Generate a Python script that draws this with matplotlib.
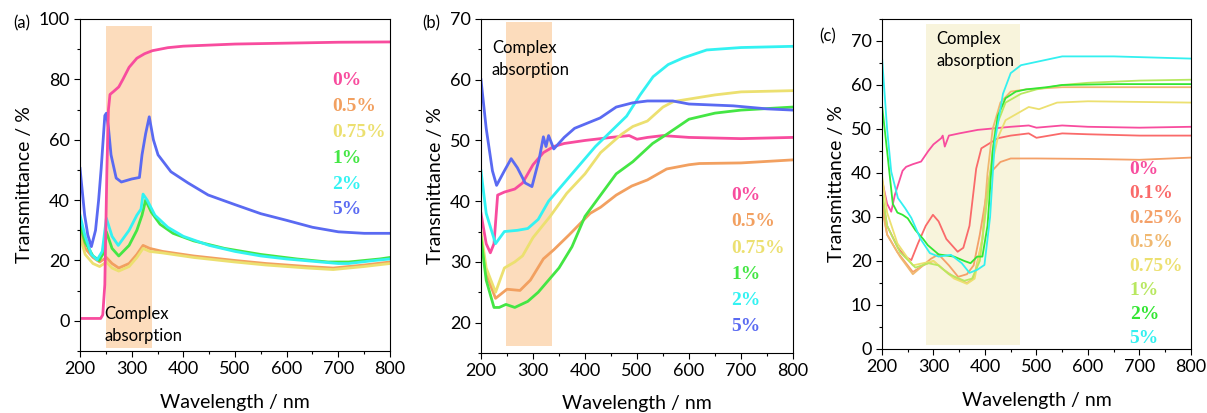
import matplotlib
matplotlib.use("Agg")
import matplotlib.pyplot as plt
from matplotlib.ticker import MultipleLocator

plt.rcParams['font.family'] = ['Lato', 'DejaVu Sans']

# ---- panel (a) ----
a_labels = ["0%", "0.5%", "0.75%", "1%", "2%", "5%"]
a_colors = ["#f84c9e", "#f2a060", "#ece070", "#44e644", "#33f2f2", "#5a6af2"]

a_x0 = [200, 240, 244, 248, 252, 255, 258, 265, 275, 283, 295, 310, 325, 340, 370, 400, 500, 600, 700, 800]
a_y0 = [0.8, 0.8, 2, 12, 50, 70, 75, 76, 77.5, 80, 84, 87, 88.5, 89.5, 90.5, 91, 91.7, 92, 92.3, 92.4]

a_xs = [200, 210, 225, 238, 251, 262, 275, 295, 310, 322, 335, 360, 420, 500, 560, 640, 690, 750, 800]
a_y05 = [30, 24, 21, 19.5, 21, 19, 17.5, 19, 22, 25, 24, 23, 21.5, 20, 19, 18, 17.5, 18.5, 19.5]
a_y075 = [28, 22, 19, 18, 19.5, 17.5, 16.5, 18, 21, 24, 23, 22.5, 21, 19.5, 18.5, 17.5, 17, 18, 19]

a_x1 = [200, 210, 225, 237, 244, 251, 262, 275, 295, 310, 320, 327, 338, 355, 380, 420, 480, 550, 620, 680, 720, 780, 800]
a_y1 = [32, 26, 21.5, 20, 22, 29.5, 24, 21.5, 25, 30, 35, 40, 36, 32, 29, 26.5, 24, 22, 20.5, 19.5, 19.5, 20.5, 21]

a_x2 = [200, 210, 222, 233, 243, 251, 262, 274, 295, 310, 318, 322, 330, 345, 370, 400, 450, 500, 550, 600, 700, 720, 770, 800]
a_y2 = [35, 28, 22, 20.2, 23, 34, 28, 25, 30, 35, 37, 42, 40, 35, 31, 28, 25, 23, 21.5, 20.5, 19, 19, 20, 20.5]

a_x5 = [200, 209, 215, 222, 230, 236, 241, 248, 251, 255, 260, 270, 280, 300, 315, 320, 327, 334, 342, 351, 376, 409, 448, 500, 550, 600, 650, 700, 750, 800]
a_y5 = [50.5, 35, 28.5, 24.6, 30, 40, 50.6, 68, 68.8, 64, 55, 47.3, 46, 47, 47.5, 55, 62, 67.6, 60, 55, 49.4, 45.7, 41.7, 38.5, 35.5, 33.3, 31, 29.5, 29, 29]

# ---- panel (b) ----
b_labels = ["0%", "0.5%", "0.75%", "1%", "2%", "5%"]
b_colors = ["#f84c9e", "#f2a060", "#ece070", "#44e644", "#33f2f2", "#5a6af2"]

b_x0 = [200, 210, 218, 225, 232, 245, 265, 280, 300, 320, 340, 360, 400, 450, 485, 500, 520, 550, 600, 700, 800]
b_y0 = [38, 33, 31.5, 33, 41, 41.5, 42, 43, 46, 48, 49, 49.5, 50, 50.5, 50.8, 50.2, 50.5, 50.8, 50.5, 50.3, 50.5]

b_x05 = [200, 210, 228, 250, 275, 295, 320, 340, 370, 410, 430, 460, 490, 520, 557, 600, 620, 700, 800]
b_y05 = [34, 28, 24, 25.5, 25.3, 27, 30.5, 32, 34.5, 38, 39, 41, 42.5, 43.5, 45.3, 46, 46.2, 46.3, 46.8]

b_x075 = [200, 210, 228, 245, 265, 280, 300, 333, 365, 400, 430, 470, 492, 520, 550, 570, 650, 700, 800]
b_y075 = [35, 29, 25, 29, 30, 31, 34, 37.5, 41.3, 44.5, 48, 51, 52.3, 53.2, 55.5, 56.4, 57.5, 58, 58.2]

b_x1 = [200, 210, 225, 235, 248, 265, 290, 310, 330, 350, 375, 400, 430, 460, 492, 530, 557, 600, 650, 700, 800]
b_y1 = [34, 27, 22.5, 22.5, 23, 22.5, 23.5, 25, 27, 29, 32.5, 37.5, 41, 44.5, 46.5, 49.5, 51, 53.5, 54.5, 55, 55.5]

b_x2 = [200, 210, 228, 245, 270, 290, 310, 330, 360, 390, 420, 450, 480, 506, 531, 560, 589, 634, 700, 800]
b_y2 = [45, 38, 33, 35, 35.2, 35.5, 37, 40, 43, 46, 49, 51.5, 54, 57.5, 60.5, 62.5, 63.6, 64.9, 65.3, 65.5]

b_x5 = [200, 210, 222, 230, 245, 258, 270, 285, 298, 312, 320, 325, 330, 340, 360, 380, 429, 460, 492, 520, 569, 600, 685, 750, 800]
b_y5 = [60, 52, 45, 42.6, 45, 47, 45.5, 43, 42.4, 47, 50.6, 49, 50.8, 48.6, 50.5, 52, 53.7, 55.5, 56.2, 56.5, 56.5, 56, 55.7, 55.2, 55]

# ---- panel (c) ----
c_labels = ["0%", "0.1%", "0.25%", "0.5%", "0.75%", "1%", "2%", "5%"]
c_colors = ["#f84c9e", "#fa6a6a", "#f4a068", "#f0b870", "#ece070", "#b8e860", "#33e633", "#33f0f0"]

c_x0 = [200, 210, 218, 225, 240, 247, 260, 276, 290, 300, 315, 318, 322, 330, 350, 386, 450, 485, 500, 550, 600, 700, 800]
c_y0 = [38.5, 33, 31.2, 35, 40.5, 41.4, 42, 42.6, 45, 46.5, 47.9, 48.5, 46, 48.5, 49, 49.8, 50.5, 50.8, 50.3, 50.8, 50.5, 50.3, 50.5]

c_x01 = [200, 210, 231, 245, 257, 270, 285, 299, 310, 325, 347, 358, 370, 383, 393, 425, 450, 485, 500, 550, 600, 700, 800]
c_y01 = [35, 28, 23, 21, 20.2, 24, 28, 30.5, 29, 25, 22.1, 23, 28, 41, 45.6, 47.9, 48.5, 49, 48, 49, 48.8, 48.5, 48.5]

c_x025 = [200, 210, 230, 260, 280, 295, 310, 330, 348, 365, 378, 390, 400, 410, 430, 450, 500, 600, 700, 800]
c_y025 = [33, 26, 22, 17.5, 19, 20.5, 21.5, 19, 16.4, 17, 19, 26, 33, 40, 42.5, 43.3, 43.3, 43.2, 43, 43.5]

c_x05 = [200, 210, 235, 260, 280, 300, 320, 345, 365, 378, 395, 405, 415, 430, 450, 480, 550, 800]
c_y05 = [32, 26, 21, 17, 19, 20, 18, 16, 15, 16, 25, 40, 50, 56, 58.5, 59, 59.5, 59.5]

c_x075 = [200, 210, 230, 260, 280, 300, 320, 340, 365, 380, 395, 410, 425, 440, 470, 485, 505, 540, 600, 800]
c_y075 = [39.5, 31, 24, 19, 19.5, 20, 18, 16, 14.8, 16, 25, 40, 48, 52, 54, 55, 54.5, 56, 56.3, 56]

c_x1 = [200, 210, 235, 265, 290, 310, 330, 360, 375, 390, 405, 420, 440, 470, 500, 550, 600, 700, 800]
c_y1 = [36, 28, 22, 18.5, 19.5, 19, 17, 15.5, 16, 20, 35, 50, 56, 58, 59, 60, 60.5, 61, 61.2]

c_x2 = [200, 210, 221, 230, 240, 250, 265, 280, 289, 310, 340, 360, 372, 385, 395, 405, 415, 425, 440, 460, 480, 520, 550, 650, 800]
c_y2 = [55.5, 45, 33, 31, 30.5, 29.7, 27, 25, 23.6, 21.5, 21, 20, 19.5, 21, 21, 28, 45, 53, 57, 58.5, 59, 59.5, 60, 60.2, 60.2]

c_x5 = [200, 210, 218, 231, 245, 257, 275, 293, 310, 334, 355, 370, 385, 399, 410, 419, 435, 450, 470, 550, 650, 800]
c_y5 = [66.5, 50, 40.3, 34.3, 32, 29.8, 25, 21.8, 21, 21.4, 19.5, 17.3, 18, 19.1, 30, 47, 58, 62.7, 64.5, 66.5, 66.5, 66]


fig = plt.figure(figsize=(12.07, 4.13), dpi=100)
ax_a = fig.add_axes([0.0663, 0.150, 0.2568, 0.804])
ax_b = fig.add_axes([0.3985, 0.1453, 0.2585, 0.8087])
ax_c = fig.add_axes([0.7307, 0.155, 0.256, 0.799])

def style(ax, ylim, ymajor, yminor):
    ax.set_xlim(200, 800)
    ax.set_ylim(*ylim)
    ax.xaxis.set_major_locator(MultipleLocator(100))
    ax.xaxis.set_minor_locator(MultipleLocator(50))
    ax.yaxis.set_major_locator(MultipleLocator(ymajor))
    ax.yaxis.set_minor_locator(MultipleLocator(yminor))
    ax.tick_params(which='major', length=4, width=0.8, labelsize=13, direction='out')
    ax.tick_params(which='minor', length=2.5, width=0.8, direction='out')
    ax.set_ylabel("Transmittance / %", fontsize=14)
    ax.set_xlabel("Wavelength / nm", fontsize=14, labelpad=12)

def legend_text(ax, labels, colors, x, y_top, step):
    for i, (lab, col) in enumerate(zip(labels, colors)):
        ax.text(x, y_top - i * step, lab, color=col, fontsize=14, fontweight='bold',
                family='Liberation Serif', va='center', ha='left')

# (a)
ax = ax_a
ax.axvspan(250, 339, ymin=(1 / 110), ymax=(107.7 / 110), color="#fcdcbc", lw=0, zorder=0)
lw = 2.0
ax.plot(a_xs, a_y05, color=a_colors[1], lw=lw)
ax.plot(a_xs, a_y075, color=a_colors[2], lw=lw)
ax.plot(a_x1, a_y1, color=a_colors[3], lw=lw)
ax.plot(a_x2, a_y2, color=a_colors[4], lw=lw)
ax.plot(a_x5, a_y5, color=a_colors[5], lw=lw)
ax.plot(a_x0, a_y0, color=a_colors[0], lw=lw)
style(ax, (-10, 100), 20, 10)
legend_text(ax, a_labels, a_colors, 688, 79.5, 8.55)
ax.text(247, 5, "Complex\nabsorption", fontsize=12, va='top', ha='left', linespacing=1.5)
fig.text(0.011, 0.930, "(a)", fontsize=12)

# (b)
ax = ax_b
ax.axvspan(248, 337, ymin=(1.1 / 55), ymax=(54.5 / 55), color="#fcdcbc", lw=0, zorder=0)
ax.plot(b_x0, b_y0, color=b_colors[0], lw=lw)
ax.plot(b_x05, b_y05, color=b_colors[1], lw=lw)
ax.plot(b_x075, b_y075, color=b_colors[2], lw=lw)
ax.plot(b_x1, b_y1, color=b_colors[3], lw=lw)
ax.plot(b_x2, b_y2, color=b_colors[4], lw=lw)
ax.plot(b_x5, b_y5, color=b_colors[5], lw=lw)
style(ax, (15, 70), 10, 5)
ax.xaxis.labelpad = 11
legend_text(ax, b_labels, b_colors, 681, 40.9, 4.32)
ax.text(221, 66.6, "Complex\nabsorption", fontsize=12, va='top', ha='left', linespacing=1.5)
fig.text(0.350, 0.930, "(b)", fontsize=12)

# (c)
ax = ax_c
ax.axvspan(285, 468, ymin=(0.9 / 75), ymax=(73.9 / 75), color="#f8f4dc", lw=0, zorder=0)
lw = 1.3
ax.plot(c_x0, c_y0, color=c_colors[0], lw=lw)
ax.plot(c_x01, c_y01, color=c_colors[1], lw=lw)
ax.plot(c_x025, c_y025, color=c_colors[2], lw=lw)
ax.plot(c_x05, c_y05, color=c_colors[3], lw=lw)
ax.plot(c_x075, c_y075, color=c_colors[4], lw=lw)
ax.plot(c_x1, c_y1, color=c_colors[5], lw=lw)
ax.plot(c_x2, c_y2, color=c_colors[6], lw=lw)
ax.plot(c_x5, c_y5, color=c_colors[7], lw=lw)
style(ax, (0, 75), 10, 5)
legend_text(ax, c_labels, c_colors, 681, 40.7, 5.47)
ax.text(306, 72.3, "Complex\nabsorption", fontsize=12, va='top', ha='left', linespacing=1.5)
fig.text(0.679, 0.900, "(c)", fontsize=12)

fig.savefig("out.png", dpi=100)
